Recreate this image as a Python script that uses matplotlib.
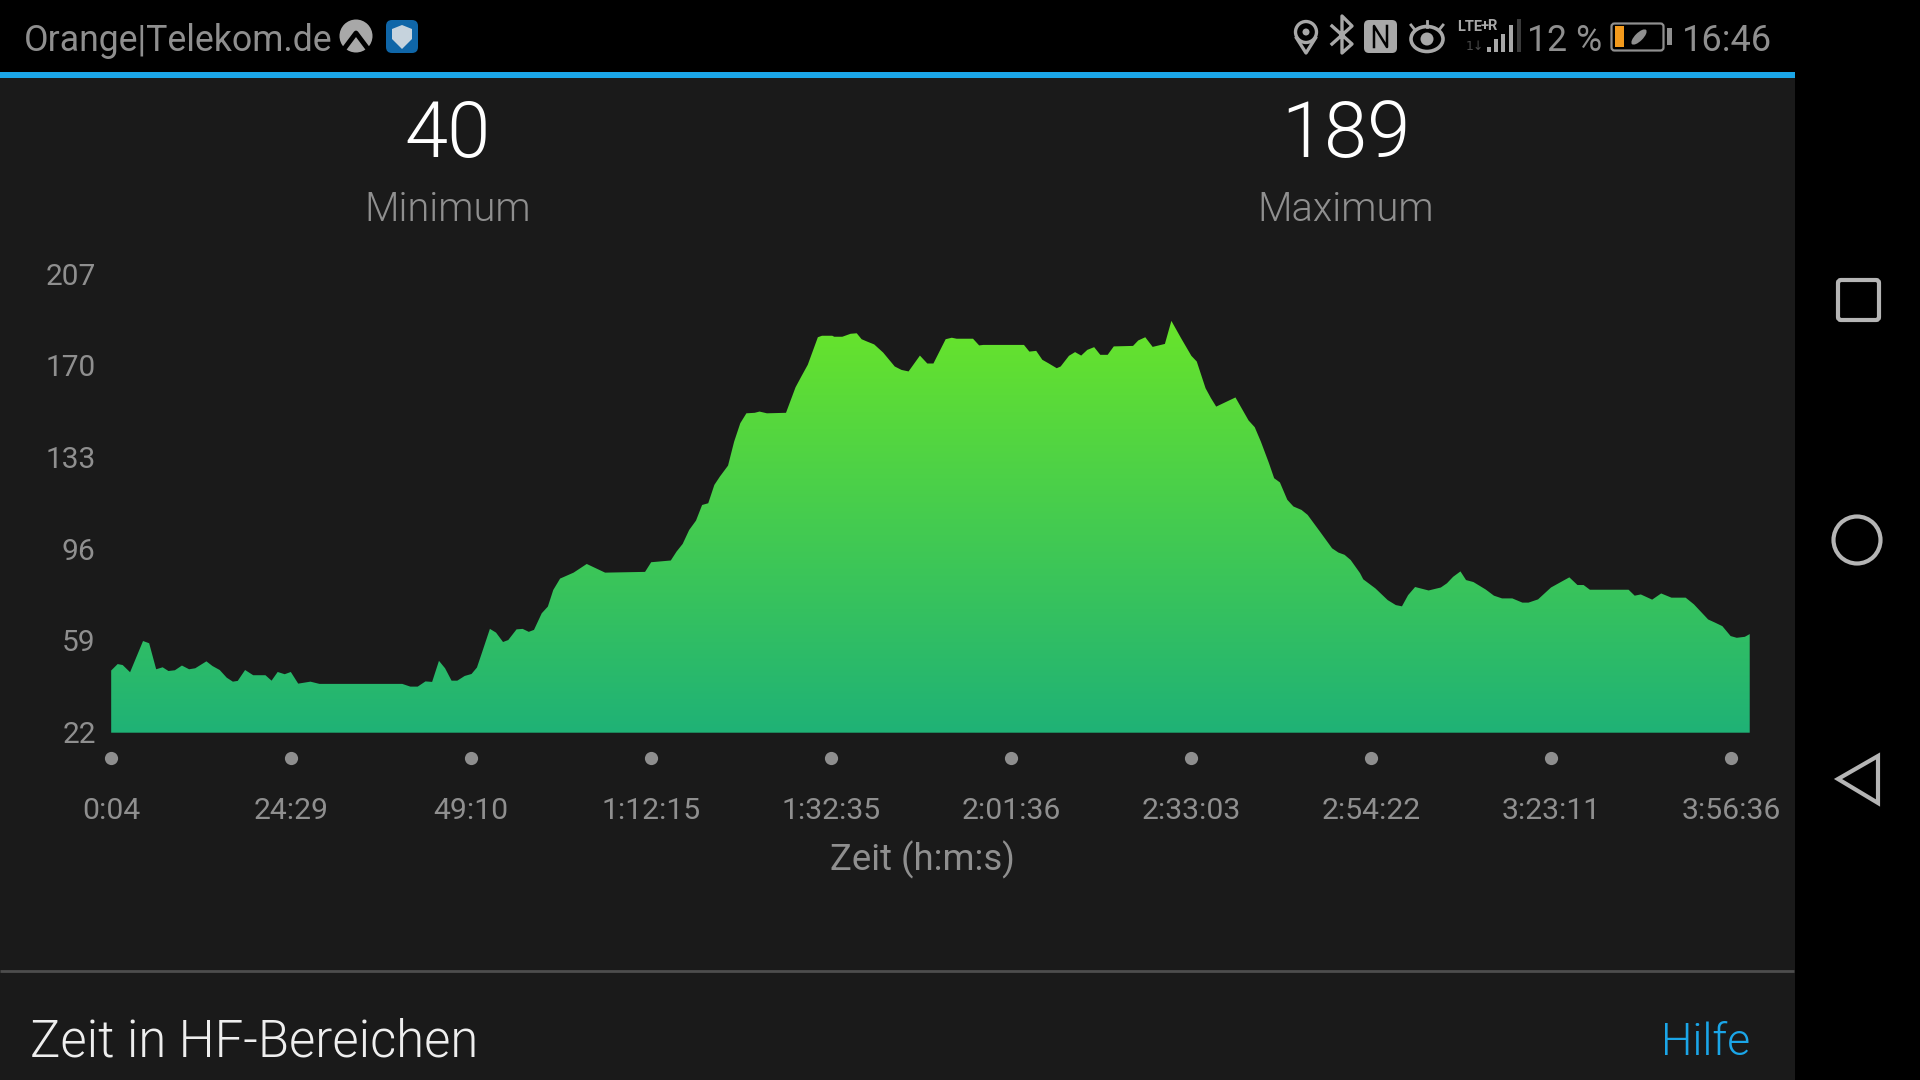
## Heart rate chart screenshot (Zeit in HF-Bereichen)
import numpy as np
import matplotlib
matplotlib.use("Agg")
import matplotlib.pyplot as plt
from matplotlib.colors import LinearSegmentedColormap
from matplotlib.patches import Circle, Ellipse, FancyBboxPatch, Polygon, Rectangle
from matplotlib.transforms import ScaledTranslation

plt.rcParams["font.family"] = ["Roboto", "DejaVu Sans"]

# x is the position along the axis, in tick steps (the ticks are evenly spaced, the times are not)
hr_pos = [0.001, 0.037, 0.065, 0.106, 0.178, 0.212, 0.251, 0.287, 0.319, 0.355, 0.394, 0.434, 0.468, 0.530, 0.564, 0.604,
          0.643, 0.677, 0.704, 0.745, 0.790, 0.858, 0.892, 0.926, 0.965, 0.999, 1.040, 1.108, 1.158, 1.618, 1.663, 1.704,
          1.747, 1.784, 1.822, 1.856, 1.892, 1.924, 1.965, 2.003, 2.033, 2.060, 2.105, 2.139, 2.178, 2.207, 2.253, 2.287,
          2.321, 2.350, 2.393, 2.427, 2.457, 2.495, 2.570, 2.643, 2.745, 2.967, 3.001, 3.110, 3.142, 3.176, 3.212, 3.250,
          3.284, 3.318, 3.352, 3.383, 3.428, 3.462, 3.496, 3.530, 3.576, 3.603, 3.644, 3.750, 3.803, 3.837, 3.871, 3.927,
          3.950, 4.007, 4.018, 4.063, 4.109, 4.143, 4.170, 4.199, 4.240, 4.290, 4.354, 4.392, 4.431, 4.494, 4.535, 4.569,
          4.637, 4.671, 4.698, 4.789, 4.823, 4.846, 5.072, 5.102, 5.140, 5.174, 5.208, 5.254, 5.276, 5.322, 5.356, 5.390,
          5.424, 5.462, 5.496, 5.537, 5.571, 5.678, 5.707, 5.746, 5.787, 5.855, 5.891, 5.945, 6.002, 6.032, 6.081, 6.111,
          6.140, 6.247, 6.320, 6.354, 6.388, 6.433, 6.462, 6.494, 6.535, 6.569, 6.614, 6.648, 6.716, 6.784, 6.819, 6.853,
          6.887, 6.939, 6.957, 7.025, 7.093, 7.138, 7.172, 7.206, 7.245, 7.320, 7.388, 7.422, 7.456, 7.497, 7.528, 7.569,
          7.637, 7.683, 7.728, 7.785, 7.841, 7.875, 7.928, 8.000, 8.057, 8.102, 8.147, 8.181, 8.216, 8.431, 8.465, 8.499,
          8.562, 8.612, 8.669, 8.748, 8.794, 8.873, 8.912, 8.952, 8.998, 9.032, 9.077, 9.104]
hr_bpm = [47.1, 49.7, 49.3, 46.4, 59.0, 58.1, 47.6, 48.4, 46.9, 47.2, 49.1, 47.6, 48.0, 50.8, 48.9, 47.3,
          44.2, 42.6, 42.9, 47.3, 45.2, 45.2, 43.0, 46.5, 45.6, 46.5, 41.8, 42.6, 41.7, 41.7, 40.6, 40.6,
          42.7, 42.5, 51.0, 48.0, 43.0, 43.0, 44.9, 45.7, 48.3, 54.1, 63.9, 62.4, 58.6, 59.4, 63.7, 63.9,
          62.7, 63.5, 70.2, 72.9, 79.6, 84.2, 86.6, 90.1, 86.6, 86.9, 90.8, 91.5, 95.1, 98.2, 103.8, 107.6,
          113.9, 114.6, 122.0, 125.4, 129.8, 139.5, 146.9, 150.9, 151.1, 151.6, 150.9, 151.1, 161.4, 166.0, 170.5, 181.6,
          182.2, 182.2, 181.8, 181.8, 183.0, 183.2, 180.8, 179.9, 178.7, 175.4, 169.8, 168.4, 167.8, 174.2, 171.0, 171.0,
          180.8, 181.4, 181.0, 181.0, 178.3, 178.5, 178.5, 175.8, 176.1, 172.5, 171.1, 169.1, 169.8, 174.1, 175.6, 174.2,
          176.5, 177.6, 174.5, 174.5, 177.9, 178.1, 180.3, 181.6, 177.7, 178.9, 188.2, 181.2, 174.1, 171.8, 161.0, 157.0,
          153.6, 157.3, 148.0, 145.3, 139.5, 130.8, 124.7, 123.0, 116.0, 113.3, 111.9, 109.9, 103.2, 96.4, 94.7, 93.8,
          91.7, 86.4, 83.9, 80.2, 75.5, 73.5, 73.0, 77.5, 80.8, 79.4, 80.6, 82.3, 84.9, 87.1, 83.6, 82.8,
          79.8, 77.3, 76.2, 76.2, 74.5, 74.5, 75.8, 80.6, 82.9, 84.7, 81.6, 81.6, 79.7, 79.7, 77.3, 77.8,
          75.7, 78.2, 76.5, 76.5, 73.8, 67.7, 66.4, 65.0, 61.0, 60.3, 60.7, 61.8]
y_ticks = [22, 59, 96, 133, 170, 207]
x_labels = ["0:04", "24:29", "49:10", "1:12:15", "1:32:35", "2:01:36", "2:33:03", "2:54:22", "3:23:11", "3:56:36"]
stat_values = ["40", "189"]
stat_names = ["Minimum", "Maximum"]

PANEL = "#1a1a1a"
GRAY = "#8f8f8f"
ICON = "#a8a8a8"
BLUE = "#1ba6e8"

W, H = 1920, 1080
fig = plt.figure(figsize=(W / 100, H / 100), dpi=100, facecolor="black")

# screen furniture is laid out in screen pixels
bg = fig.add_axes([0, 0, 1, 1], zorder=0)
bg.set_xlim(0, W)
bg.set_ylim(H, 0)
bg.axis("off")
bg.add_patch(Rectangle((0, 78), 1795, H - 78, fc=PANEL, ec="none"))
bg.add_patch(Rectangle((0, 72), 1795, 6, fc=BLUE, ec="none"))
bg.plot([0, 1794], [971, 971], color="#4d4d4d", lw=2, solid_capstyle="butt")

# status bar
bg.text(24, 41, "Orange|Telekom.de", color=GRAY, fontsize=25.7, va="center", ha="left")
bg.add_patch(Circle((356, 36), 16.5, fc=ICON, ec="none"))
bg.plot([344, 356, 368], [49, 33, 49], color="black", lw=3.5, solid_capstyle="butt")
bg.add_patch(FancyBboxPatch((390, 24), 24, 25, boxstyle="round,pad=4,rounding_size=6", fc="#0f66a8", ec="none"))
bg.add_patch(Polygon([[402, 25], [412, 29], [412, 39], [402, 49], [392, 39], [392, 29]], fc="#c6d3dd", ec="none"))

# location pin
bg.add_patch(Circle((1306, 32), 10.5, fc="none", ec=ICON, lw=2.4))
bg.plot([1296.5, 1306, 1315.5], [38, 53, 38], color=ICON, lw=2.4)
bg.add_patch(Circle((1306, 32), 3.5, fc=ICON, ec="none"))
# bluetooth
bg.plot([1332, 1352, 1342, 1342, 1352, 1332], [26, 44, 53, 16, 26, 44], color=ICON, lw=2.4)
# nfc
bg.add_patch(FancyBboxPatch((1367, 23), 27, 27, boxstyle="round,pad=3,rounding_size=5", fc=ICON, ec="none"))
bg.plot([1374, 1374, 1387, 1387], [47, 26, 47, 26], color="black", lw=1.8)
# eye
bg.add_patch(Ellipse((1427, 39), 32, 25, fc="none", ec=ICON, lw=2.6))
bg.add_patch(Circle((1427, 39), 6.5, fc=ICON, ec="none"))
for x0, x1, y0, y1 in [(1427, 1427, 21, 27), (1411, 1415, 25, 30), (1443, 1439, 25, 30)]:
    bg.plot([x0, x1], [y0, y1], color=ICON, lw=2)
# signal
bg.text(1457, 27, "LTE", color=ICON, fontsize=10.5, va="center", ha="left", stretch="condensed", fontweight="bold")
bg.text(1481, 26, "+R", color=ICON, fontsize=10.5, va="center", ha="left", fontweight="bold")
bg.text(1466, 47, "1↓", color="#4a4a4a", fontsize=9, va="center", ha="left", family=["DejaVu Sans"])
for bx, bh, bc in [(1487, 5, ICON), (1494, 13, ICON), (1501, 18, ICON), (1509, 27, ICON), (1517, 33, "#3a3a3a")]:
    bg.add_patch(Rectangle((bx, 52 - bh), 4, bh, fc=bc, ec="none"))
bg.text(1527, 41, "12 %", color=GRAY, fontsize=25.7, va="center", ha="left")
# battery
bg.add_patch(FancyBboxPatch((1613, 25), 49, 24, boxstyle="round,pad=1.5,rounding_size=3", fc="none", ec=GRAY, lw=1.6))
bg.add_patch(Rectangle((1615, 26), 9, 21, fc="#f39a1c", ec="none"))
bg.add_patch(Ellipse((1639, 37), 20, 8, angle=-45, fc=GRAY, ec="none"))
bg.add_patch(Rectangle((1667, 28), 4.5, 17, fc=GRAY, ec="none"))
bg.text(1682, 41, "16:46", color=GRAY, fontsize=26, va="center", ha="left")

# navigation buttons
bg.add_patch(FancyBboxPatch((1838, 280), 41, 40, boxstyle="round,pad=0,rounding_size=3", fc="none", ec="#b5b5b5", lw=3))
bg.add_patch(Circle((1857, 540), 23.5, fc="none", ec="#b5b5b5", lw=3))
bg.add_patch(Polygon([[1878, 756], [1878, 803], [1838, 779]], closed=True, fc="none", ec="#b5b5b5", lw=3))

# stats above the chart
for x, val, name in zip([447.5, 1346], stat_values, stat_names):
    bg.text(x, 136, val, color="white", fontsize=56, fontweight=300, va="center", ha="center")
    bg.text(x, 210, name, color=GRAY, fontsize=28.6, fontweight=300, va="center", ha="center")

# bottom section
bg.text(922, 860, "Zeit (h:m:s)", color=GRAY, fontsize=26.3, va="center", ha="center")
bg.text(30, 1042.5, "Zeit in HF-Bereichen", color="#eeeeee", fontsize=36.5, fontweight=300, va="center", ha="left")
bg.text(1750, 1042.5, "Hilfe", color=BLUE, fontsize=32, fontweight=300, va="center", ha="right")

# chart
left, right, top, bottom = 111, 1750, 274.3, 732.7
ax = fig.add_axes([left / W, 1 - bottom / H, (right - left) / W, (bottom - top) / H], zorder=1)
ax.patch.set_alpha(0)
for s in ax.spines.values():
    s.set_visible(False)
ax.set_xlim(0, (right - left) / 180)
ax.set_ylim(y_ticks[0], y_ticks[-1])

area = ax.fill_between(hr_pos, hr_bpm, y_ticks[0], color="none", lw=0)
cmap = LinearSegmentedColormap.from_list("hr", ["#1fb276", "#68e42b"])
shade = ax.imshow(np.linspace(1, 0, 256).reshape(-1, 1), cmap=cmap, aspect="auto", zorder=2,
                  extent=[0, (right - left) / 180, y_ticks[0], max(hr_bpm)])
shade.set_clip_path(area.get_paths()[0], transform=ax.transData)
ax.set_xlim(0, (right - left) / 180)
ax.set_ylim(y_ticks[0], y_ticks[-1])

ax.set_yticks(y_ticks)
ax.set_xticks(range(len(x_labels)))
ax.set_xticklabels(x_labels)
ax.tick_params(axis="y", length=0, pad=11, labelsize=21.5, labelcolor=GRAY)
ax.tick_params(axis="x", length=0, pad=46.2, labelsize=21.7, labelcolor=GRAY)
# y labels sit a touch higher than matplotlib centres them
for lab in ax.get_yticklabels():
    lab.set_transform(lab.get_transform() + ScaledTranslation(0, 0.6 / 100, fig.dpi_scale_trans))

ax.plot(range(len(x_labels)), [-0.055] * len(x_labels), "o", color="#8e8e8e", ms=9.5, mec="none",
        transform=ax.get_xaxis_transform(), clip_on=False)

fig.savefig("out.png", dpi=100, facecolor=fig.get_facecolor())
